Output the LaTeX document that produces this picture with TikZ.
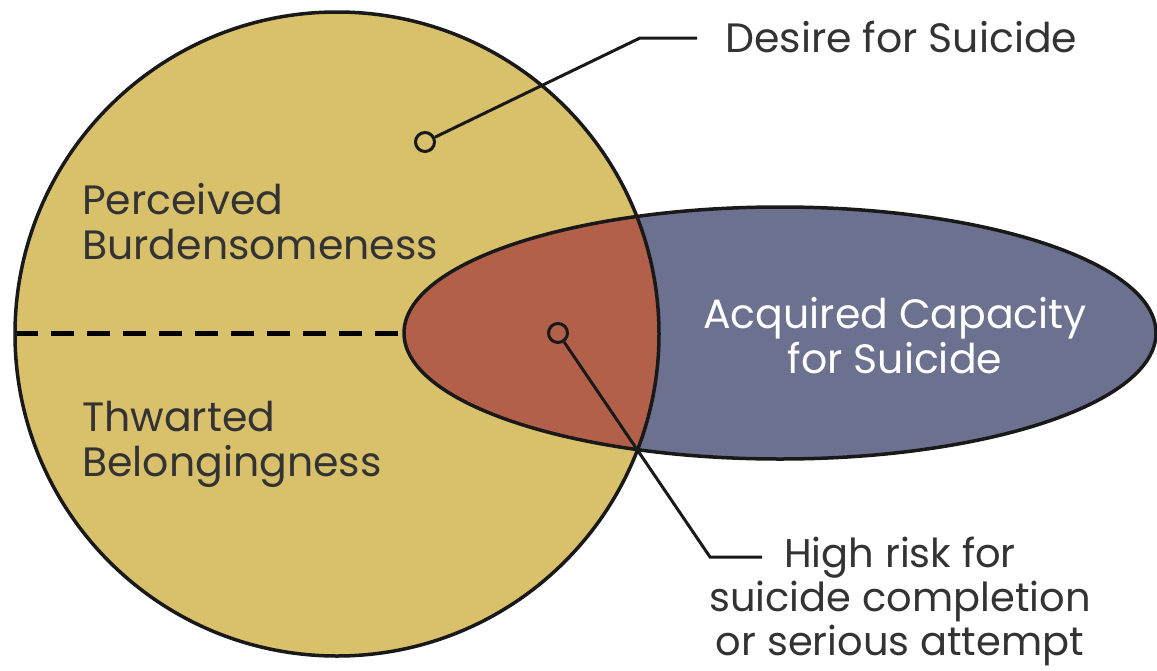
\documentclass[tikz,border=0pt]{standalone}
\usepackage{fontspec}
\setmainfont{Poppins}
\definecolor{burden}{RGB}{217,193,108}
\definecolor{capacity}{RGB}{107,113,143}
\definecolor{highrisk}{RGB}{179,96,74}
\begin{document}
\begin{tikzpicture}[x=1pt,y=-1pt,
  outline/.style={draw=black!90, line width=3.5pt},
  pin/.style={circle, draw=black!90, line width=3pt, inner sep=0pt, minimum size=19pt},
  leader/.style={draw=black!90, line width=3pt},
  every node/.style={font=\fontsize{41}{45}\selectfont, text=black!80, inner sep=0pt}]
  \useasboundingbox (0,0) rectangle (1157,670);
  % areas
  \fill[burden] (337,334) circle (322);
  \fill[capacity] (780,333) ellipse (376 and 126);
  \begin{scope}
    \clip (337,334) circle (322);
    \fill[highrisk] (780,333) ellipse (376 and 126);
  \end{scope}
  \draw[line width=5pt, dash pattern=on 23pt off 13pt] (15,333) -- (404,333);
  \draw[outline] (337,334) circle (322);
  \draw[outline] (780,333) ellipse (376 and 126);
  % labels
  \node[align=left, anchor=west] (burd) at (82,222) {Perceived\\Burdensomeness};
  \node[align=left, anchor=west] (belong) at (82,444) {Thwarted\\Belongingness};
  \node[align=center, text=white] (cap) at (895,336) {Acquired Capacity\\for Suicide};
  \node[anchor=base west] (desire) at (725,52) {Desire for Suicide};
  \node[align=center, font=\fontsize{40}{44}\selectfont] (risk) at (900,601) {High risk for\\suicide completion\\or serious attempt};
  % leaders
  \node[pin] (pin1) at (425,142) {};
  \node[pin] (pin2) at (558,333) {};
  \coordinate (knee1) at (640,38);
  \coordinate (end1) at (697,38);
  \coordinate (knee2) at (710,557);
  \coordinate (end2) at (762,557);
  \draw[leader] (pin1) -- (knee1) -- (end1);
  \draw[leader] (pin2) -- (knee2) -- (end2);
\end{tikzpicture}
\end{document}
